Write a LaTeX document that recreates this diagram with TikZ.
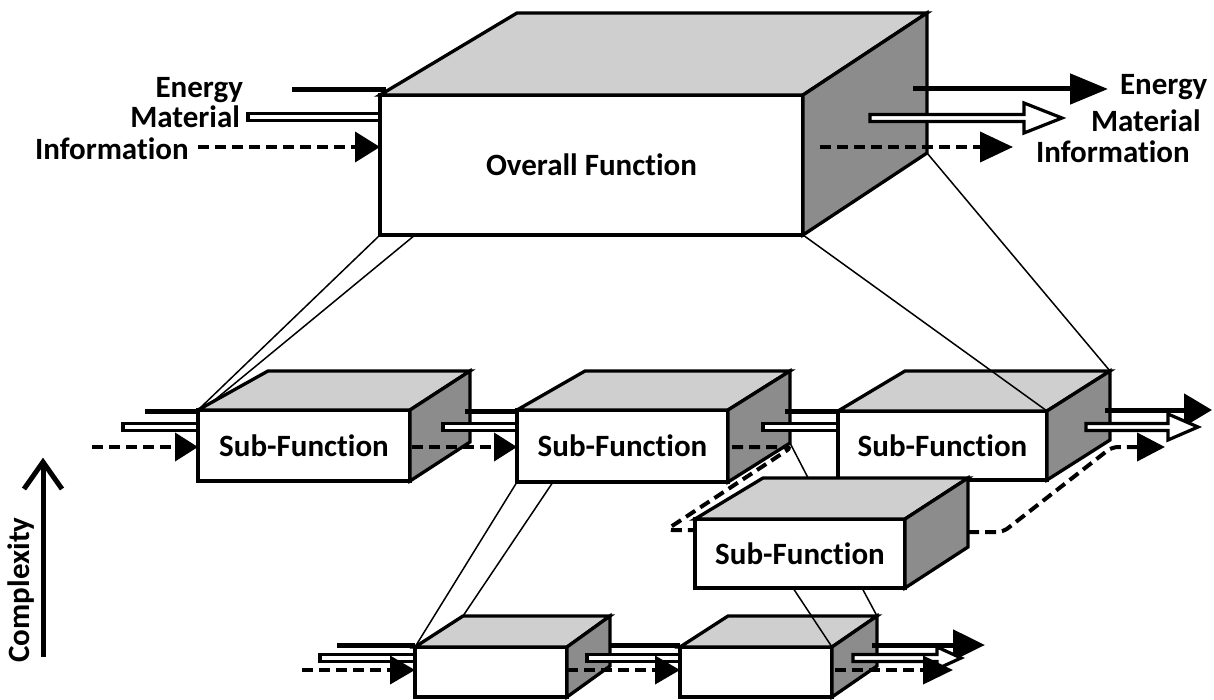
\documentclass[tikz,border=0pt]{standalone}
\usepackage{fontspec}
\setmainfont{Carlito}[Ligatures={NoCommon}]
\usetikzlibrary{arrows.meta,calc}

\definecolor{topgray}{gray}{0.81}
\definecolor{sidegray}{gray}{0.55}

\tikzset{
  frontface/.style={draw=black, fill=white, line width=3.3pt, inner sep=0pt, outer sep=0pt,
    font=\bfseries\fontsize{31}{36}\selectfont},
  topface/.style={draw=black, fill=topgray, line width=3.3pt, line join=miter},
  sideface/.style={draw=black, fill=sidegray, line width=3.3pt, line join=miter},
  proj/.style={draw=black, line width=1.5pt},
  energy/.style={draw=black, line width=5pt},
  info/.style={draw=black, line width=4pt, dash pattern=on 11pt off 6pt},
  matbody/.style={draw=black, fill=white, line width=3.2pt, line join=miter},
  txt/.style={font=\bfseries\fontsize{31}{36}\selectfont, inner sep=0pt, outer sep=0pt},
}

% cuboid: name, x, y, width, height, depth-x (left), depth-x (right), depth-y, text
\newcommand\cuboid[9]{%
  \node[frontface, minimum width=#4pt, minimum height=#5pt, anchor=north west] (#1) at (#2,#3) {#9};
  \draw[topface] (#1.north west) -- ++(#6,#8) -- ([shift={(#7,#8)}]#1.north east) -- (#1.north east) -- cycle;
  \draw[sideface] (#1.north east) -- ++(#7,#8) -- ([shift={(#7,#8)}]#1.south east) -- (#1.south east) -- cycle;
  \coordinate (#1-btl) at ([shift={(#6,#8)}]#1.north west);
  \coordinate (#1-btr) at ([shift={(#7,#8)}]#1.north east);
  \coordinate (#1-bbr) at ([shift={(#7,#8)}]#1.south east);
}
% hollow material shaft without head
\newcommand\matshaft[2]{%
  \draw[matbody] ($(#1)+(0,-3.5)$) rectangle ($(#2)+(0,3.5)$);}
% hollow material arrow: start, tip, head length, head half-width
\newcommand\hollowarrow[4]{%
  \draw[matbody] ($(#1)+(0,-3.5)$) -- ($(#2)+(-#3,-3.5)$) -- ($(#2)+(-#3,-#4)$) -- (#2)
    -- ($(#2)+(-#3,#4)$) -- ($(#2)+(-#3,3.5)$) -- ($(#1)+(0,3.5)$) -- cycle;}

\begin{document}
\begin{tikzpicture}[x=1pt, y=-1pt]
\useasboundingbox (0,0) rectangle (1214,700);

% ---- boxes ----
\cuboid{ov}{380}{95}{423}{140}{137}{124}{-82}{Overall Function}
\cuboid{b1}{198}{410}{212}{71}{70}{60}{-39}{Sub-Function}
\cuboid{b2}{517}{410}{211}{72}{68}{62}{-39}{Sub-Function}
\cuboid{b3}{838}{411}{209}{69}{67}{63}{-40}{Sub-Function}
\cuboid{b4}{695}{519}{210}{69}{68}{63}{-41}{Sub-Function}
\cuboid{b5}{415}{647}{152}{50}{48}{43}{-31}{}
\cuboid{b6}{680}{647}{152}{50}{48}{45}{-31}{}

% ---- decomposition lines ----
\draw[proj] (ov.south west) -- (b1.north west);
\draw[proj] ([xshift=35]ov.south west) -- ($(b1.north west)!0.2!(b1-btl)$);
\draw[proj] (ov.south east) -- (b3.north east);
\draw[proj] (ov-bbr) -- (b3-btr);
\draw[proj] (b2.south west) -- (b5.north west);
\draw[proj] ([xshift=36]b2.south west) -- (b5-btl);
\draw[proj] (b2-bbr) -- ($(b4-btl)!0.22!(b4-btr)$);
\draw[proj] ([xshift=98]b4.south west) -- (b6.north east);
\draw[proj] ([xshift=167]b4.south west) -- (b6-btr);

% ---- overall inputs ----
\coordinate (eL) at (292,90);
\draw[energy] (eL) -- ($(eL -| ov.west)+(6,0)$);
\coordinate (mL) at (248,117);
\matshaft{mL}{mL -| ov.west}
\coordinate (iL) at (198,147);
\draw[info, -{Triangle[length=25pt,width=30pt]}] (iL) -- (iL -| ov.west);

% ---- overall outputs ----
\coordinate (eR0) at (913,89);  \coordinate (eR) at (1108,89);
\draw[energy, -{Triangle[length=38pt,width=30pt]}] (eR0) -- (eR);
\coordinate (mR0) at (870,118); \coordinate (mR) at (1062,118);
\hollowarrow{mR0}{mR}{38}{15}
\coordinate (iR0) at (820,147); \coordinate (iR) at (1013,147);
\draw[info, -{Triangle[length=33pt,width=30pt]}] (iR0) -- (iR);

% ---- row of sub-functions ----
\coordinate (e1) at (145,411);
\draw[energy] (e1) -- (e1 -| b1.west);
\coordinate (m1) at (123,427);
\matshaft{m1}{m1 -| b1.west}
\coordinate (i1) at (92,447);
\draw[info, -{Triangle[length=23pt,width=28pt]}] (i1) -- (i1 -| b1.west);

\coordinate (e12) at (465,411);
\draw[energy] (e12) -- (e12 -| b2.west);
\coordinate (m12) at (443,427);
\matshaft{m12}{m12 -| b2.west}
\coordinate (i12) at (412,447);
\draw[info, -{Triangle[length=23pt,width=28pt]}] (i12) -- (i12 -| b2.west);

\coordinate (e23) at (785,411);
\draw[energy] (e23) -- (e23 -| b3.west);
\coordinate (m23) at (763,427);
\matshaft{m23}{m23 -| b3.west}

% information routed through the lower sub-function
\coordinate (i2) at (732,447);
\coordinate (i2a) at (792,447);
\coordinate (i2b) at (666,530);
\draw[info, rounded corners=6pt] (i2) -- (i2a) -- (i2b) -- (i2b -| b4.west);
\coordinate (i4) at (968,532);
\coordinate (i4a) at (1003,532);
\coordinate (i4b) at (1112,447);
\coordinate (i4c) at (1165,447);
\draw[info, rounded corners=6pt, -{Triangle[length=28pt,width=28pt]}] (i4) -- (i4a) -- (i4b) -- (i4c);

\coordinate (e3) at (1105,410); \coordinate (e3t) at (1212,410);
\draw[energy, -{Triangle[length=28pt,width=32pt]}] (e3) -- (e3t);
\coordinate (m3) at (1086,427); \coordinate (m3t) at (1198,427);
\hollowarrow{m3}{m3t}{30}{13}

% ---- lowest level ----
\coordinate (e5) at (337,645);
\draw[energy] (e5) -- (e5 -| b5.west);
\coordinate (m5) at (320,658);
\matshaft{m5}{m5 -| b5.west}
\coordinate (i5) at (302,670);
\draw[info, -{Triangle[length=25pt,width=28pt]}] (i5) -- (i5 -| b5.west);

\coordinate (e56) at (610,645);
\draw[energy] (e56) -- (e56 -| b6.west);
\coordinate (m56) at (587,658);
\matshaft{m56}{m56 -| b6.west}
\coordinate (i56) at (567,670);
\draw[info, -{Triangle[length=25pt,width=28pt]}] (i56) -- (i56 -| b6.west);

\coordinate (e6) at (872,645); \coordinate (e6t) at (985,645);
\draw[energy, -{Triangle[length=32pt,width=30pt]}] (e6) -- (e6t);
\coordinate (m6) at (853,658); \coordinate (m6t) at (961,658);
\hollowarrow{m6}{m6t}{24}{11}
\coordinate (i6) at (835,670); \coordinate (i6t) at (953,670);
\draw[info, -{Triangle[length=30pt,width=28pt]}] (i6) -- (i6t);

% ---- complexity axis ----
\coordinate (cb) at (43,657); \coordinate (ct) at (43,462);
\draw[line width=5pt] (cb) -- (ct);
\draw[line width=5pt, line join=miter] ($(ct)+(-19,27)$) -- (ct) -- ($(ct)+(19,27)$);
\node[txt, rotate=90] (cx) at (21,590) {Complexity};

% ---- flow labels ----
\node[txt, anchor=base east] (lE) at (243,98) {Energy};
\node[txt, anchor=base east] (lM) at (240,128) {Material};
\node[txt, anchor=base west] (lI) at (35,160) {Information};
\node[txt, anchor=base west] (rE) at (1120,95) {Energy};
\node[txt, anchor=base west] (rM) at (1091,132) {Material};
\node[txt, anchor=base west] (rI) at (1036,163) {Information};
\end{tikzpicture}
\end{document}
